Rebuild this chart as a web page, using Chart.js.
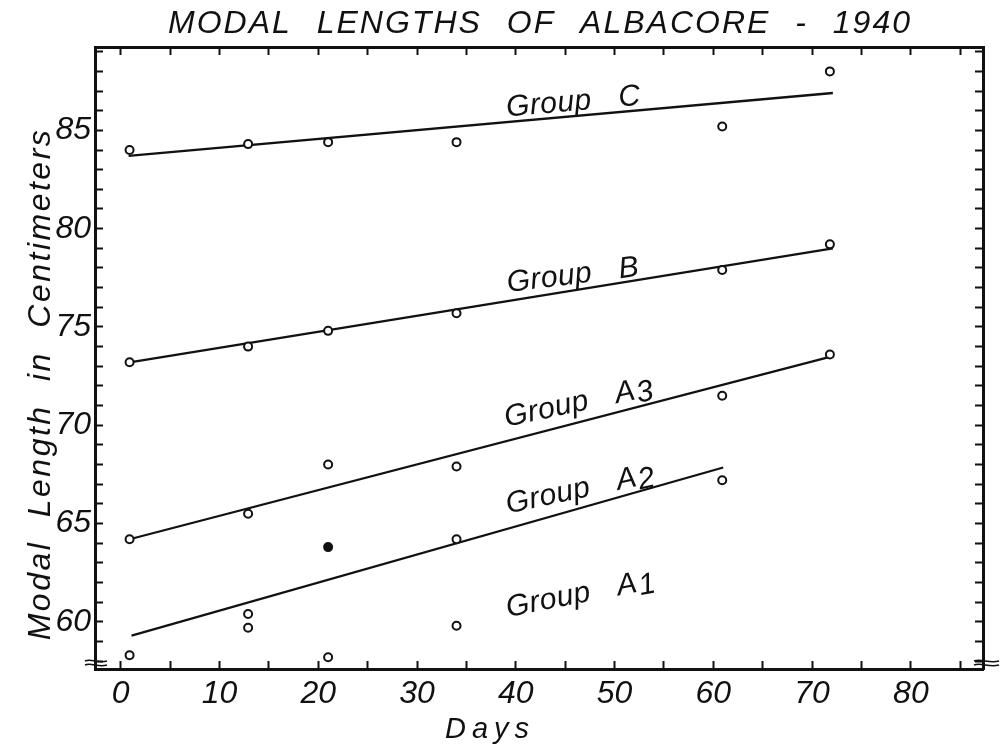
<!DOCTYPE html>
<html>
<head>
<meta charset="utf-8">
<script src="https://cdn.jsdelivr.net/npm/chart.js@4/dist/chart.umd.min.js"></script>
<style>
  html, body { margin: 0; padding: 0; background: #ffffff; }
  #wrap { width: 1002px; height: 750px; }
</style>
</head>
<body>
<div id="wrap"><canvas id="c" width="1002" height="750"></canvas></div>
<script>
// ---------------- data ----------------
const sampleDays = [0.9, 12.9, 21.0, 34.0, 60.9, 71.8];
const groupC  = [84.0, 84.3, 84.4, 84.4, 85.2, 88.0];
const groupB  = [73.2, 74.0, 74.8, 75.7, 77.9, 79.2];
const groupA3 = [64.2, 65.5, 68.0, 67.9, 71.5, 73.6];
const groupA2 = [null, 60.4, 63.8, 64.2, 67.2, null];
const groupA1 = [58.3, 59.7, 58.2, 59.8, null, null];
const groupA2Solid = [false, false, true, false, false, false];

// fitted (hand-drawn) trend lines: start / end
const lineCDays  = [0.8, 72.1];  const lineCValues  = [83.7, 86.9];
const lineBDays  = [0.9, 72.1];  const lineBValues  = [73.2, 79.0];
const lineA3Days = [0.9, 72.0];  const lineA3Values = [64.2, 73.5];
const lineA2Days = [1.1, 61.0];  const lineA2Values = [59.3, 67.85];

// axes
const xTickMarks  = [0, 5, 10, 15, 20, 25, 30, 35, 40, 45, 50, 55, 60, 65, 70, 75, 80, 85];
const xTickLabels = [0, 10, 20, 30, 40, 50, 60, 70, 80];
const yTickMarks  = [58, 59, 60, 61, 62, 63, 64, 65, 66, 67, 68, 69, 70, 71, 72, 73, 74, 75, 76, 77, 78, 79, 80, 81, 82, 83, 84, 85, 86, 87, 88, 89];
const yTickLabels = [60, 65, 70, 75, 80, 85];

const titleText  = 'MODAL LENGTHS OF ALBACORE - 1940';
const xTitleText = 'Days';
const yTitleText = 'Modal Length in Centimeters';

// ---------------- helpers ----------------
const FONT = '"Liberation Sans", Arial, sans-serif';
const INK = '#111111';

function pts(days, vals) {
  const out = [];
  for (let i = 0; i < days.length; i++) {
    if (vals[i] !== null && vals[i] !== undefined) out.push({ x: days[i], y: vals[i] });
  }
  return out;
}
function pointFill(days, vals, solid) {
  const out = [];
  for (let i = 0; i < days.length; i++) {
    if (vals[i] !== null && vals[i] !== undefined) out.push(solid && solid[i] ? INK : '#ffffff');
  }
  return out;
}

function lineSet(days, vals) {
  return {
    data: pts(days, vals), showLine: true, borderColor: INK, borderWidth: 2.3,
    pointRadius: 0, pointHoverRadius: 0, fill: false, order: 2
  };
}
function pointSet(days, vals, solid) {
  return {
    data: pts(days, vals), showLine: false,
    pointRadius: 4, pointHoverRadius: 4, pointBorderWidth: 2,
    pointBorderColor: INK, pointBackgroundColor: pointFill(days, vals, solid), order: 1
  };
}

const X_MIN = -2.6, X_MAX = 87.3, Y_MIN = 57.6, Y_MAX = 89.24;

function axisCommon(marks, labels, showLabels, fontSize, pad) {
  return {
    type: 'linear',
    afterBuildTicks: (s) => { s.ticks = marks.map(v => ({ value: v })); },
    ticks: {
      display: showLabels, autoSkip: false, maxRotation: 0, minRotation: 0,
      padding: pad, color: INK,
      font: { family: FONT, size: fontSize, style: 'italic' },
      callback: (v) => labels.indexOf(v) >= 0 ? String(v) : ''
    },
    grid: { drawOnChartArea: false, drawTicks: true, tickLength: -8, tickColor: INK, tickWidth: 2, color: INK },
    border: { display: true, color: INK, width: 3 }
  };
}

const textPlugin = {
  id: 'textPlugin',
  afterDraw(chart, args, opts) {
    const ctx = chart.ctx;
    const xs = chart.scales.x, ys = chart.scales.y;
    const ca = chart.chartArea;
    ctx.save();
    ctx.fillStyle = INK;
    ctx.strokeStyle = INK;

    // main title
    ctx.font = 'italic 32px ' + FONT;
    ctx.textAlign = 'center';
    ctx.textBaseline = 'alphabetic';
    try { ctx.letterSpacing = '2px'; ctx.wordSpacing = '14px'; } catch (e) {}
    ctx.fillText(titleText, 540, 33);

    // x-axis title
    ctx.font = 'italic 29px ' + FONT;
    try { ctx.letterSpacing = '6px'; ctx.wordSpacing = '0px'; } catch (e) {}
    ctx.textAlign = 'left';
    ctx.fillText(xTitleText, 445, 738);

    // y-axis title
    ctx.save();
    ctx.translate(50, 384);
    ctx.rotate(-Math.PI / 2);
    ctx.font = 'italic 32px ' + FONT;
    try { ctx.letterSpacing = '2.5px'; ctx.wordSpacing = '12px'; } catch (e) {}
    ctx.textAlign = 'center';
    ctx.fillText(yTitleText, 0, 0);
    ctx.restore();

    // group labels along the lines
    (opts.labels || []).forEach(l => {
      const px = xs.getPixelForValue(l.x), py = ys.getPixelForValue(l.y);
      ctx.save();
      ctx.translate(px, py);
      ctx.rotate(l.rot * Math.PI / 180);
      ctx.font = 'italic 30px ' + FONT;
      try { ctx.letterSpacing = '0.5px'; ctx.wordSpacing = '18px'; } catch (e) {}
      ctx.textAlign = 'left';
      ctx.fillText(l.text, 0, 0);
      if (l.sub) {
        const w = ctx.measureText(l.text).width;
        ctx.fillText(l.sub, w + 1, 4);
      }
      ctx.restore();
    });

    // axis break marks at the lower corners
    ctx.lineWidth = 1.6;
    const brk = (x0, x1, y) => {
      ctx.beginPath();
      ctx.moveTo(x0, y);
      ctx.bezierCurveTo(x0 + (x1 - x0) * 0.3, y - 3, x0 + (x1 - x0) * 0.6, y + 3, x1, y);
      ctx.stroke();
    };
    brk(ca.left - 10, ca.left + 12, ca.bottom - 8);
    brk(ca.left - 10, ca.left + 12, ca.bottom - 4);
    brk(ca.right - 9, ca.right + 16, ca.bottom - 8);
    brk(ca.right - 9, ca.right + 16, ca.bottom - 4);
    ctx.restore();
  }
};

const xAxis = Object.assign(axisCommon(xTickMarks, xTickLabels, true, 32, 14), {
  position: 'bottom', min: X_MIN, max: X_MAX,
  afterFit: (s) => { s.height = 750 - 669; }
});
const x2Axis = Object.assign(axisCommon(xTickMarks, [], false, 32, 0), {
  position: 'top', min: X_MIN, max: X_MAX,
  afterFit: (s) => { s.height = 47; }
});
const yAxis = Object.assign(axisCommon(yTickMarks, yTickLabels, true, 32, 12), {
  position: 'left', min: Y_MIN, max: Y_MAX,
  afterFit: (s) => { s.width = 95; }
});
const y2Axis = Object.assign(axisCommon(yTickMarks, [], false, 32, 0), {
  position: 'right', min: Y_MIN, max: Y_MAX,
  afterFit: (s) => { s.width = 1002 - 983; }
});

new Chart(document.getElementById('c'), {
  type: 'scatter',
  data: {
    datasets: [
      lineSet(lineCDays, lineCValues),
      lineSet(lineBDays, lineBValues),
      lineSet(lineA3Days, lineA3Values),
      lineSet(lineA2Days, lineA2Values),
      pointSet(sampleDays, groupC),
      pointSet(sampleDays, groupB),
      pointSet(sampleDays, groupA3),
      pointSet(sampleDays, groupA2, groupA2Solid),
      pointSet(sampleDays, groupA1)
    ]
  },
  options: {
    responsive: false,
    animation: false,
    devicePixelRatio: 1,
    layout: { padding: 0 },
    plugins: {
      legend: { display: false },
      tooltip: { enabled: false },
      title: { display: false },
      textPlugin: {
        labels: [
          { text: 'Group C', x: 39.1, y: 85.71, rot: -5 },
          { text: 'Group B', x: 39.2, y: 76.78, rot: -7 },
          { text: 'Group A', sub: '3', x: 39.05, y: 69.92, rot: -12 },
          { text: 'Group A', sub: '2', x: 39.2, y: 65.51, rot: -12 },
          { text: 'Group A', sub: '1', x: 39.2, y: 60.25, rot: -11 }
        ]
      }
    },
    scales: { x: xAxis, x2: x2Axis, y: yAxis, y2: y2Axis }
  },
  plugins: [textPlugin]
});
</script>
</body>
</html>
